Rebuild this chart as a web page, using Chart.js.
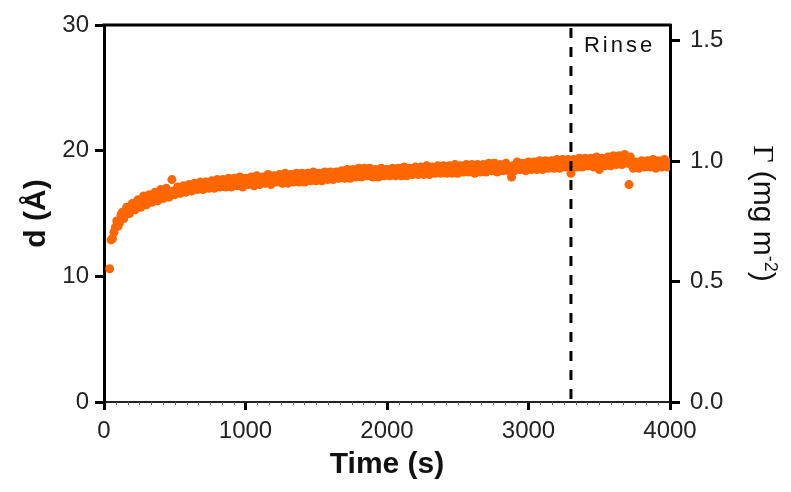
<!DOCTYPE html>
<html><head><meta charset="utf-8">
<script src="https://cdn.jsdelivr.net/npm/chart.js@4.4.1/dist/chart.umd.min.js"></script>
<style>html,body{margin:0;padding:0;background:#fff;}#wrap{width:791px;height:492px;}</style>
</head><body><div id="wrap"><canvas id="c" width="791" height="492"></canvas></div>
<script>
// ---- data ----
const timeS = [
  40,60,80,100,120,140,160,180,200,220,
  240,260,280,300,320,340,360,380,400,420,
  440,460,480,500,520,540,560,580,600,620,
  640,660,680,700,720,740,760,780,800,820,
  840,860,880,900,920,940,960,980,1000,1020,
  1040,1060,1080,1100,1120,1140,1160,1180,1200,1220,
  1240,1260,1280,1300,1320,1340,1360,1380,1400,1420,
  1440,1460,1480,1500,1520,1540,1560,1580,1600,1620,
  1640,1660,1680,1700,1720,1740,1760,1780,1800,1820,
  1840,1860,1880,1900,1920,1940,1960,1980,2000,2020,
  2040,2060,2080,2100,2120,2140,2160,2180,2200,2220,
  2240,2260,2280,2300,2320,2340,2360,2380,2400,2420,
  2440,2460,2480,2500,2520,2540,2560,2580,2600,2620,
  2640,2660,2680,2700,2720,2740,2760,2780,2800,2820,
  2840,2860,2880,2900,2920,2940,2960,2980,3000,3020,
  3040,3060,3080,3100,3120,3140,3160,3180,3200,3220,
  3240,3260,3280,3300,3320,3340,3360,3380,3400,3420,
  3440,3460,3480,3500,3520,3540,3560,3580,3600,3620,
  3640,3660,3680,3700,3720,3740,3760,3780,3800,3820,
  3840,3860,3880,3900,3920,3940,3960,3980,4000,
  3710,50,70,90,110,130,150
];
const thicknessA = [
  10.6,13.0,13.9,14.0,14.9,14.6,15.5,15.0,15.8,15.3,
  16.1,15.5,16.4,15.7,16.5,15.9,16.7,16.0,16.9,16.2,
  17.0,16.3,17.7,16.5,17.1,16.6,17.2,16.7,17.3,16.8,
  17.4,16.9,17.5,16.9,17.5,17.0,17.6,17.0,17.7,17.1,
  17.7,17.1,17.8,17.1,17.8,17.2,17.9,17.1,17.8,17.3,
  17.9,17.2,18.0,17.3,17.9,17.4,18.1,17.3,18.0,17.5,
  18.1,17.4,18.2,17.4,18.1,17.5,18.2,17.5,18.2,17.5,
  18.2,17.6,18.3,17.6,18.2,17.6,18.3,17.7,18.3,17.7,
  18.3,17.8,18.4,17.8,18.5,17.8,18.5,17.9,18.6,17.9,
  18.6,18.0,18.6,17.9,18.5,17.9,18.6,18.0,18.5,18.0,
  18.6,18.0,18.6,18.0,18.7,18.0,18.6,18.1,18.7,18.1,
  18.7,18.1,18.8,18.1,18.7,18.2,18.8,18.2,18.8,18.2,
  18.8,18.2,18.9,18.2,18.8,18.3,18.9,18.3,18.9,18.2,
  18.9,18.3,18.9,18.3,19.0,18.4,19.0,18.3,18.9,18.4,
  19.0,18.4,17.9,18.4,19.1,18.5,19.0,18.4,19.1,18.5,
  19.1,18.5,19.2,18.5,19.2,18.6,19.2,18.6,19.3,18.6,
  19.3,18.7,19.3,18.2,19.3,18.7,19.4,18.7,19.4,18.8,
  19.4,18.7,19.5,18.5,19.4,18.8,19.5,18.8,19.6,18.9,
  19.6,18.9,19.7,19.0,19.5,18.6,19.1,18.6,19.2,18.7,
  19.2,18.7,19.3,18.6,19.2,18.7,19.3,18.7,19.1,
  17.3,12.9,13.5,14.4,14.3,15.1,15.0
];
// readings from the middle of the dense band
const timeMid = [
  170,190,
  210,230,250,270,290,310,330,350,370,390,
  410,430,450,470,490,510,530,550,570,590,
  610,630,650,670,690,710,730,750,770,790,
  810,830,850,870,890,910,930,950,970,990,
  1010,1030,1050,1070,1090,1110,1130,1150,1170,1190,
  1210,1230,1250,1270,1290,1310,1330,1350,1370,1390,
  1410,1430,1450,1470,1490,1510,1530,1550,1570,1590,
  1610,1630,1650,1670,1690,1710,1730,1750,1770,1790,
  1810,1830,1850,1870,1890,1910,1930,1950,1970,1990,
  2010,2030,2050,2070,2090,2110,2130,2150,2170,2190,
  2210,2230,2250,2270,2290,2310,2330,2350,2370,2390,
  2410,2430,2450,2470,2490,2510,2530,2550,2570,2590,
  2610,2630,2650,2670,2690,2710,2730,2750,2770,2790,
  2810,2830,2850,2870,2890,2910,2930,2950,2970,2990,
  3010,3030,3050,3070,3090,3110,3130,3150,3170,3190,
  3210,3230,3250,3270,3290,3310,3330,3350,3370,3390,
  3410,3430,3450,3470,3490,3510,3530,3550,3570,3590,
  3610,3630,3650,3670,3690,3710,3730,3750,3770,3790,
  3810,3830,3850,3870,3890,3910,3930,3950,3970,3990
];
const thicknessMid = [
  15.2,15.5,
  15.6,15.8,15.9,16.0,16.1,16.2,16.2,16.4,16.3,16.5,
  16.5,16.6,16.6,16.7,16.8,16.7,16.9,16.8,16.9,17.0,
  17.0,17.1,17.0,17.2,17.1,17.2,17.3,17.2,17.3,17.3,
  17.4,17.3,17.4,17.5,17.4,17.4,17.5,17.6,17.4,17.5,
  17.6,17.5,17.6,17.7,17.6,17.7,17.6,17.8,17.7,17.7,
  17.8,17.7,17.8,17.8,17.9,17.7,17.8,17.9,17.8,17.9,
  17.9,17.8,18.0,17.9,17.9,18.0,17.9,18.1,18.0,18.0,
  18.0,18.1,18.0,18.1,18.2,18.1,18.2,18.1,18.2,18.3,
  18.2,18.3,18.2,18.3,18.3,18.2,18.3,18.2,18.3,18.2,
  18.3,18.3,18.2,18.3,18.4,18.3,18.3,18.4,18.4,18.3,
  18.4,18.4,18.5,18.4,18.4,18.5,18.4,18.5,18.5,18.4,
  18.5,18.5,18.6,18.5,18.5,18.6,18.5,18.6,18.6,18.5,
  18.6,18.6,18.7,18.6,18.6,18.7,18.6,18.7,18.7,18.6,
  18.6,18.7,18.7,18.7,18.8,18.7,18.8,18.7,18.8,18.8,
  18.8,18.8,18.9,18.8,18.8,18.9,18.9,18.8,18.9,18.9,
  18.9,19.0,18.9,19.0,18.9,19.0,19.0,18.9,19.0,19.1,
  19.0,19.1,19.0,19.1,19.0,19.1,19.1,19.0,19.1,19.2,
  19.1,19.2,19.2,19.3,19.2,19.3,18.9,18.8,18.9,18.9,
  18.9,19.0,18.9,19.0,18.9,19.0,18.9,19.0,18.9,19.0
];
const xTickValues = [0, 1000, 2000, 3000, 4000];
const leftTickValues = [0, 10, 20, 30];
const rightTickValues = [0.0, 0.5, 1.0, 1.5];
const rinseTime = 3300;
const rinseLabel = 'Rinse';
const xTitle = 'Time (s)';
const leftTitle = 'd (Å)';
const rightTitleParts = ['Γ', ' (mg m', '-2', ')'];

const SANS = '"Liberation Sans", Arial, sans-serif';
const points = timeS.map((t, i) => ({x: t, y: thicknessA[i]}))
  .concat(timeMid.map((t, i) => ({x: t, y: thicknessMid[i]})));

const overlay = {
  id: 'overlay',
  afterDraw(chart) {
    const {ctx, chartArea: a, scales: {x}} = chart;
    ctx.save();
    // top frame line
    ctx.strokeStyle = '#000';
    ctx.lineWidth = 3;
    ctx.beginPath(); ctx.moveTo(a.left - 1.5, a.top); ctx.lineTo(a.right + 1.5, a.top); ctx.stroke();
    // minor x ticks
    ctx.fillStyle = '#666';
    for (let k = 0; k < xTickValues.length - 1; k++) {
      const step = (xTickValues[k + 1] - xTickValues[k]) / 12;
      for (let i = 1; i < 12; i++) {
        const px = Math.round(x.getPixelForValue(xTickValues[k] + i * step));
        ctx.fillRect(px, a.bottom, 1, 3);
      }
    }
    // rinse dashed line
    const rx = x.getPixelForValue(rinseTime);
    ctx.strokeStyle = '#000';
    ctx.lineWidth = 3;
    ctx.setLineDash([10, 9]);
    ctx.beginPath(); ctx.moveTo(rx, a.top + 3); ctx.lineTo(rx, a.bottom); ctx.stroke();
    ctx.setLineDash([]);
    // rinse label
    ctx.font = '22px ' + SANS;
    ctx.letterSpacing = '3px';
    ctx.fillStyle = '#111';
    ctx.textAlign = 'left';
    ctx.textBaseline = 'middle';
    ctx.fillText(rinseLabel, rx + 13, a.top + 21);
    ctx.letterSpacing = '0px';
    // right axis title (rotated, with superscript)
    const cx = 762, cy = (a.top + a.bottom) / 2;
    ctx.translate(cx, cy);
    ctx.rotate(Math.PI / 2);
    ctx.textBaseline = 'alphabetic';
    const fonts = ['30px "Liberation Serif", serif', '30px ' + SANS, '18px ' + SANS, '30px ' + SANS];
    const rise = [0, 0, -11, 0];
    let total = 0;
    const widths = rightTitleParts.map((s, i) => { ctx.font = fonts[i]; const w = ctx.measureText(s).width; total += w; return w; });
    let px = -total / 2;
    const base = 8;
    ctx.fillStyle = '#111';
    rightTitleParts.forEach((s, i) => { ctx.font = fonts[i]; ctx.fillText(s, px, base + rise[i]); px += widths[i]; });
    ctx.restore();
  }
};

new Chart(document.getElementById('c'), {
  type: 'scatter',
  data: { datasets: [{
    data: points,
    backgroundColor: '#FF6600',
    borderColor: '#FF6600',
    borderWidth: 0,
    pointRadius: 4.5,
    pointHoverRadius: 4.5
  }]},
  options: {
    responsive: false,
    animation: false,
    events: [],
    layout: { padding: { top: 25, left: 0, right: 0, bottom: 0 } },
    plugins: { legend: { display: false }, tooltip: { enabled: false } },
    scales: {
      x: {
        type: 'linear', position: 'bottom', min: 0, max: 4000,
        afterFit: s => { s.height = 90; },
        afterBuildTicks: s => { s.ticks = xTickValues.map(v => ({value: v})); },
        grid: { drawOnChartArea: false, drawTicks: true, tickLength: 8, tickWidth: 3, tickColor: '#000' },
        border: { display: true, color: '#222', width: 2 },
        ticks: { font: { family: SANS, size: 24 }, color: '#222', padding: 7, maxRotation: 0, callback: v => String(v) },
        title: { display: true, text: xTitle, font: { family: SANS, size: 30, weight: 'bold' }, color: '#111', padding: { top: 0, bottom: 9 } }
      },
      y: {
        type: 'linear', position: 'left', min: 0, max: 30,
        afterFit: s => { s.width = 104; },
        afterBuildTicks: s => { s.ticks = leftTickValues.map(v => ({value: v})); },
        grid: { drawOnChartArea: false, drawTicks: true, tickLength: 9, tickWidth: 3, tickColor: '#000' },
        border: { display: true, color: '#000', width: 3 },
        ticks: { font: { family: SANS, size: 24 }, color: '#222', padding: 6, callback: v => String(v) },
        title: { display: true, text: leftTitle, font: { family: SANS, size: 30, weight: 'bold' }, color: '#111', padding: { top: 19, bottom: 0 } }
      },
      y2: {
        type: 'linear', position: 'right', min: 0, max: 1.565,
        afterFit: s => { s.width = 121; },
        afterBuildTicks: s => { s.ticks = rightTickValues.map(v => ({value: v})); },
        grid: { drawOnChartArea: false, drawTicks: true, tickLength: 10, tickWidth: 3, tickColor: '#000' },
        border: { display: true, color: '#000', width: 3 },
        ticks: { font: { family: SANS, size: 24 }, color: '#222', padding: 10, callback: v => Number(v).toFixed(1) },
        title: { display: false }
      }
    }
  },
  plugins: [overlay]
});
</script></body></html>
